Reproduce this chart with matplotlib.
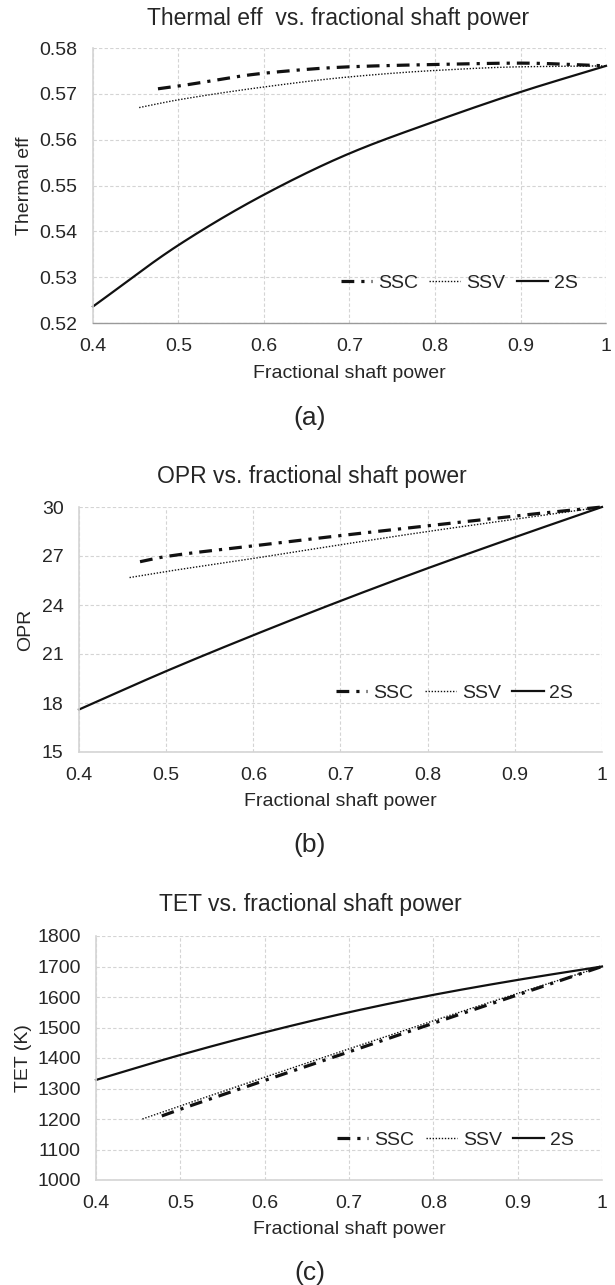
import matplotlib
matplotlib.use("Agg")
import matplotlib.pyplot as plt
import numpy as np

plt.rcParams['font.family'] = ['Liberation Sans', 'DejaVu Sans']

# ---- data ----
x_ticks = [0.4, 0.5, 0.6, 0.7, 0.8, 0.9, 1.0]
x_ticklabels = ["0.4", "0.5", "0.6", "0.7", "0.8", "0.9", "1"]

# (a) thermal efficiency
eff_ssc_x = [0.476, 0.5, 0.6, 0.7, 0.8, 0.9, 1.0]
eff_ssc_y = [0.5711, 0.5717, 0.5745, 0.5759, 0.5764, 0.5767, 0.5761]
eff_ssv_x = [0.454, 0.5, 0.6, 0.7, 0.8, 0.9, 1.0]
eff_ssv_y = [0.5670, 0.5687, 0.5715, 0.5737, 0.5751, 0.5759, 0.5761]
eff_2s_x = [0.4, 0.5, 0.6, 0.7, 0.8, 0.9, 1.0]
eff_2s_y = [0.5236, 0.5370, 0.5480, 0.5570, 0.5640, 0.5704, 0.5761]

# (b) OPR
opr_ssc_x = [0.47, 0.5, 0.6, 0.7, 0.8, 0.9, 1.0]
opr_ssc_y = [26.65, 26.97, 27.62, 28.25, 28.85, 29.45, 30.0]
opr_ssv_x = [0.458, 0.5, 0.6, 0.7, 0.8, 0.9, 1.0]
opr_ssv_y = [25.68, 26.05, 26.85, 27.69, 28.5, 29.25, 30.0]
opr_2s_x = [0.4, 0.5, 0.6, 0.7, 0.8, 0.9, 1.0]
opr_2s_y = [17.6, 19.95, 22.15, 24.25, 26.25, 28.15, 30.0]

# (c) TET
tet_ssc_x = [0.478, 0.5, 0.6, 0.7, 0.8, 0.9, 1.0]
tet_ssc_y = [1210, 1232, 1326, 1420, 1514, 1607, 1700]
tet_ssv_x = [0.455, 0.5, 0.6, 0.7, 0.8, 0.9, 1.0]
tet_ssv_y = [1200, 1243, 1337, 1430, 1522, 1612, 1700]
tet_2s_x = [0.4, 0.5, 0.6, 0.7, 0.8, 0.9, 1.0]
tet_2s_y = [1328, 1410, 1484, 1550, 1607, 1656, 1700]

W, H = 615, 1285
fig = plt.figure(figsize=(W / 100, H / 100), dpi=100)

txt_col = "#262626"
line_col = "#111111"
grid_col = "#d4d4d4"


def fx(px):
    return px / W


def fy(py):
    return 1 - py / H


def smooth(xs, ys, n=200):
    # monotone cubic through the read points so the curves look smooth
    xs = np.asarray(xs, float)
    ys = np.asarray(ys, float)
    xn = np.linspace(xs[0], xs[-1], n)
    h = np.diff(xs)
    d = np.diff(ys) / h
    m = np.zeros_like(ys)
    m[0], m[-1] = d[0], d[-1]
    for i in range(1, len(xs) - 1):
        m[i] = 0 if d[i - 1] * d[i] <= 0 else 2 / (1 / d[i - 1] + 1 / d[i])
    idx = np.clip(np.searchsorted(xs, xn) - 1, 0, len(xs) - 2)
    t = (xn - xs[idx]) / h[idx]
    h00 = 2 * t**3 - 3 * t**2 + 1
    h10 = t**3 - 2 * t**2 + t
    h01 = -2 * t**3 + 3 * t**2
    h11 = t**3 - t**2
    yn = h00 * ys[idx] + h10 * h[idx] * m[idx] + h01 * ys[idx + 1] + h11 * h[idx] * m[idx + 1]
    return xn, yn


panels = [
    dict(box=(93, 48, 606, 323), ylim=(0.52, 0.58), yticks=np.arange(0.52, 0.5801, 0.01), fmt="{:.2f}",
         ylabel="Thermal eff", title="Thermal eff  vs. fractional shaft power", title_x=338, title_y=18,
         ylabel_x=25, xlabel_y=373, tag="(a)", tag_y=418, leg_y=283, bottom_solid=False,
         ssc=(eff_ssc_x, eff_ssc_y), ssv=(eff_ssv_x, eff_ssv_y), s2=(eff_2s_x, eff_2s_y)),
    dict(box=(79, 507, 602, 752), ylim=(15, 30), yticks=np.arange(15, 31, 3), fmt="{:.0f}",
         ylabel="OPR", title="OPR vs. fractional shaft power", title_x=312, title_y=477,
         ylabel_x=26, xlabel_y=801, tag="(b)", tag_y=845, leg_y=693, bottom_solid=True,
         ssc=(opr_ssc_x, opr_ssc_y), ssv=(opr_ssv_x, opr_ssv_y), s2=(opr_2s_x, opr_2s_y)),
    dict(box=(96, 936, 602, 1180), ylim=(1000, 1800), yticks=np.arange(1000, 1801, 100), fmt="{:.0f}",
         ylabel="TET (K)", title="TET vs. fractional shaft power", title_x=310, title_y=905,
         ylabel_x=23, xlabel_y=1230, tag="(c)", tag_y=1273, leg_y=1140, bottom_solid=True,
         ssc=(tet_ssc_x, tet_ssc_y), ssv=(tet_ssv_x, tet_ssv_y), s2=(tet_2s_x, tet_2s_y)),
]

for p in panels:
    x0, y0, x1, y1 = p["box"]
    ax = fig.add_axes([fx(x0), fy(y1), fx(x1 - x0), (y1 - y0) / H])
    ax.set_xlim(0.4, 1.0)
    ax.set_ylim(*p["ylim"])
    ax.set_xticks(x_ticks)
    ax.set_xticklabels(x_ticklabels)
    ax.set_yticks(p["yticks"])
    ax.set_yticklabels([p["fmt"].format(v) for v in p["yticks"]])
    ax.tick_params(length=0, labelsize=14, labelcolor=txt_col, pad=11)
    ax.grid(True, color=grid_col, linestyle=(0, (3, 2)), linewidth=0.8)
    ax.set_axisbelow(True)
    for s in ["top", "right"]:
        ax.spines[s].set_visible(False)
    ax.spines["left"].set_color(grid_col)
    ax.spines["left"].set_linewidth(1.2)
    if p["bottom_solid"]:
        ax.spines["bottom"].set_color(grid_col)
        ax.spines["bottom"].set_linewidth(1.2)
    else:
        ax.spines["bottom"].set_color("#9a9a9a")
        ax.spines["bottom"].set_linestyle((0, (1, 1)))
        ax.spines["bottom"].set_linewidth(1.0)

    xs, ys = smooth(*p["ssc"])
    ax.plot(xs, ys, color=line_col, linewidth=2.3, linestyle=(0, (4, 2.2, 1, 2.2)), label="SSC",
            clip_on=False)
    xs, ys = smooth(*p["ssv"])
    ax.plot(xs, ys, color=line_col, linewidth=1.0, linestyle=(0, (1, 1.2)), label="SSV", clip_on=False)
    xs, ys = smooth(*p["s2"])
    ax.plot(xs, ys, color=line_col, linewidth=1.6, linestyle="-", label="2S", clip_on=False)

    leg_frac = (y1 - p["leg_y"]) / (y1 - y0)
    ax.legend(loc="center right", bbox_to_anchor=(0.945, leg_frac), ncol=3, frameon=False,
              fontsize=14, handlelength=1.6, handletextpad=0.3, columnspacing=0.6,
              borderaxespad=0, borderpad=0, labelcolor=txt_col)

    fig.text(fx(p["title_x"]), fy(p["title_y"]), p["title"], ha="center", va="center",
             fontsize=16.5, color=txt_col)
    fig.text(fx((x0 + x1) / 2), fy(p["xlabel_y"]), "Fractional shaft power", ha="center",
             va="center", fontsize=14, color=txt_col)
    fig.text(fx(p["ylabel_x"]), fy((y0 + y1) / 2), p["ylabel"], ha="center", va="center",
             rotation=90, fontsize=14, color=txt_col)
    fig.text(fx(310), fy(p["tag_y"]), p["tag"], ha="center", va="center", fontsize=19,
             color=txt_col)

fig.savefig("out.png", dpi=100, facecolor="white")
